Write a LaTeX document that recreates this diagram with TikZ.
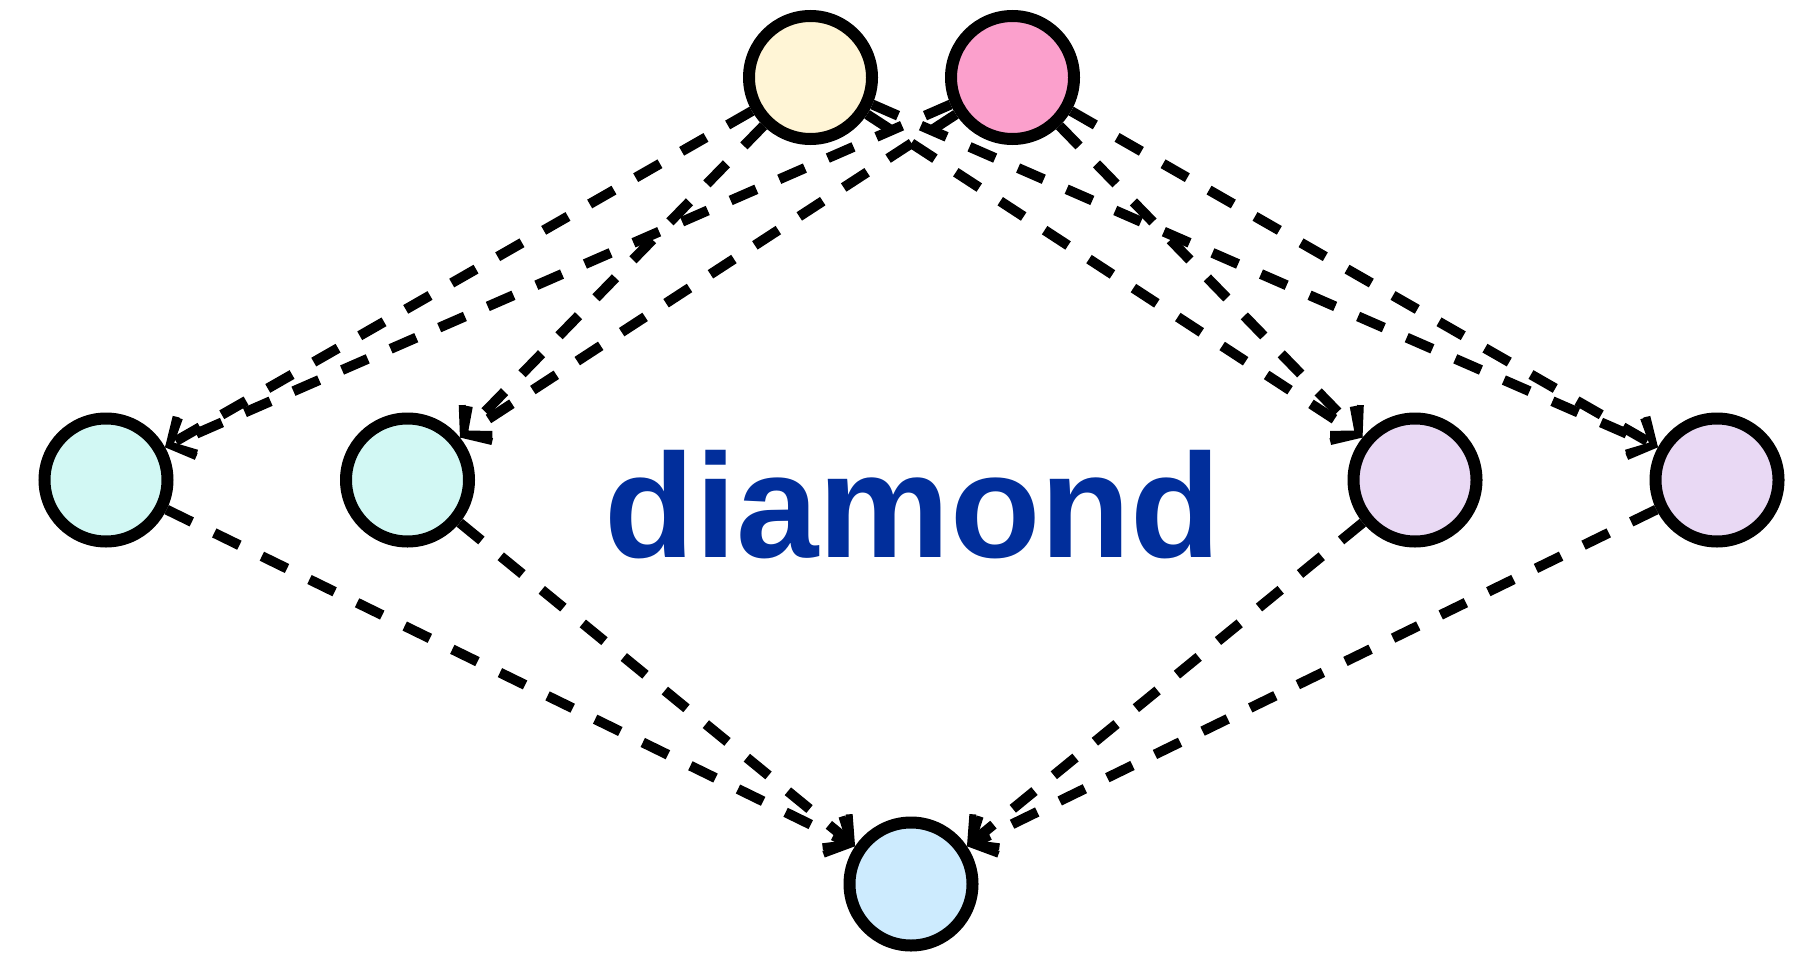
\documentclass[tikz,border=0pt]{standalone}
\usepackage{fontspec}
\setmainfont{Liberation Sans}
\usetikzlibrary{arrows.meta}
\definecolor{cyellow}{HTML}{FFF5D6}
\definecolor{cpink}{HTML}{FBA0CC}
\definecolor{ccyan}{HTML}{D2F8F4}
\definecolor{cpurple}{HTML}{E9D9F4}
\definecolor{cblue}{HTML}{CDEBFE}
\definecolor{textblue}{HTML}{012E9B}
\tikzset{
  vtx/.style={circle, draw=black, line width=12pt, minimum size=123pt, inner sep=0pt},
  link/.style={line width=10pt, dash pattern=on 28pt off 25pt,
    -{Straight Barb[length=20pt,width=42pt,line width=7pt]}},
}
\begin{document}
\begin{tikzpicture}[x=1pt,y=-1pt]
\useasboundingbox (0,0) rectangle (1809,955);
\node[vtx, fill=cyellow] (y) at (810.5,77.5) {};
\node[vtx, fill=cpink] (p) at (1012.5,77.5) {};
\node[vtx, fill=ccyan] (c1) at (106,480) {};
\node[vtx, fill=ccyan] (c2) at (407.5,480) {};
\node[vtx, fill=cpurple] (u1) at (1415,480) {};
\node[vtx, fill=cpurple] (u2) at (1717,480) {};
\node[vtx, fill=cblue] (b) at (911,884) {};
\node[font=\bfseries\fontsize{148}{148}\selectfont, text=textblue, anchor=base, inner sep=0pt] (t) at (913,557) {diamond};
\draw[link] (y) -- (c1.29);
\draw[link] (p) -- (c1.29);
\draw[link] (y) -- (c2.39);
\draw[link] (p) -- (c2.39);
\draw[link] (y) -- (u1.141);
\draw[link] (p) -- (u1.141);
\draw[link] (y) -- (u2.151);
\draw[link] (p) -- (u2.151);
\draw[link] (c1) -- (b.146);
\draw[link] (c2) -- (b.146);
\draw[link] (u1) -- (b.34);
\draw[link] (u2) -- (b.34);
\end{tikzpicture}
\end{document}
